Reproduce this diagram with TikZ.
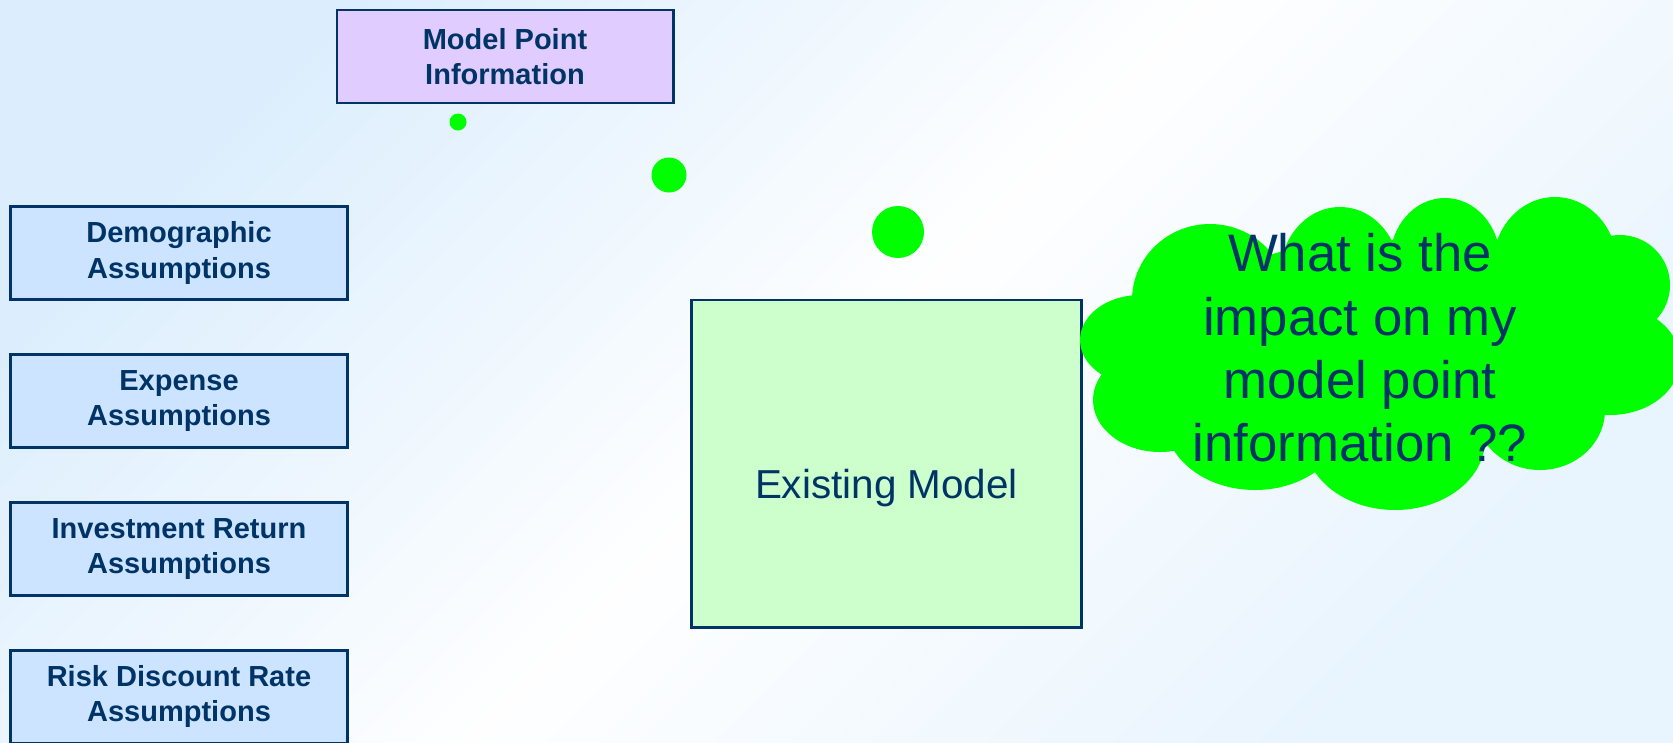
\documentclass[tikz,border=0pt]{standalone}
\usepackage{fontspec}
\setmainfont{Liberation Sans}
\usetikzlibrary{positioning}

\definecolor{navy}{HTML}{003366}
\definecolor{assumblue}{HTML}{CCE4FF}
\definecolor{mplilac}{HTML}{E0CCFF}
\definecolor{modelgreen}{HTML}{CCFFCC}
\definecolor{brightgreen}{HTML}{00FF00}
\definecolor{bgblue}{HTML}{DCEEFD}
\definecolor{bgpale}{HTML}{E8F4FE}

\begin{document}
\begin{tikzpicture}[x=0.01cm, y=-0.01cm, node distance=0.52cm]
    % Styles
    \tikzstyle{inputbox}=[rectangle, draw=navy, line width=0.8pt, fill=assumblue, minimum width=3.36cm, minimum height=0.93cm, align=center, text=navy, font=\fontsize{8.25}{10}\selectfont\bfseries]
    \tikzstyle{bubble}=[circle, fill=brightgreen, inner sep=0pt]

    % Background
    \useasboundingbox (0,0) rectangle (1673,742);
    \clip (0,0) rectangle (1673,742);
    \shade[left color=bgblue, right color=bgpale, middle color=white!97!bgblue, shading angle=45] (0,0) rectangle (1673,742);

    % Inputs
    \node (mpinfo) [inputbox, fill=mplilac] at (505,56.5) {Model Point\\Information};
    \node (demog) [inputbox] at (179,253) {Demographic\\Assumptions};
    \node (expense) [inputbox, below=of demog] {Expense\\Assumptions};
    \node (invret) [inputbox, below=of expense] {Investment Return\\Assumptions};
    \node (rdr) [inputbox, below=of invret] {Risk Discount Rate\\Assumptions};

    % Model
    \node (existing) [rectangle, draw=navy, line width=0.8pt, fill=modelgreen, minimum width=3.89cm, minimum height=3.27cm] at (886.5,463.5) {};
    \node (existlabel) [text=navy, font=\fontsize{11.5}{13}\selectfont] at ([yshift=-0.25cm]existing.center) {Existing Model};

    % Thought bubbles
    \node (dot1) [bubble, minimum size=0.17cm] at (458,122) {};
    \node (dot2) [bubble, minimum size=0.35cm] at (669,175) {};
    \node (dot3) [bubble, minimum size=0.52cm] at (898,232) {};

    % Cloud built from puffs
    \fill[brightgreen] (1380,350) ellipse [x radius=220, y radius=110];
    \foreach \cx/\cy/\rx/\ry in {1210/300/78/76, 1340/275/60/68, 1445/260/55/62, 1555/265/62/68,
        1620/285/50/50, 1610/360/70/55, 1540/410/65/60, 1395/440/90/70,
        1255/420/90/70, 1160/400/67/52, 1140/340/60/45}
        \fill[brightgreen] (\cx,\cy) ellipse [x radius=\rx, y radius=\ry];
    \node (question) [text=navy, align=center, font=\fontsize{15}{18}\selectfont] at (1360,348) {What is the\\impact on my\\model point\\information ??};
\end{tikzpicture}
\end{document}
